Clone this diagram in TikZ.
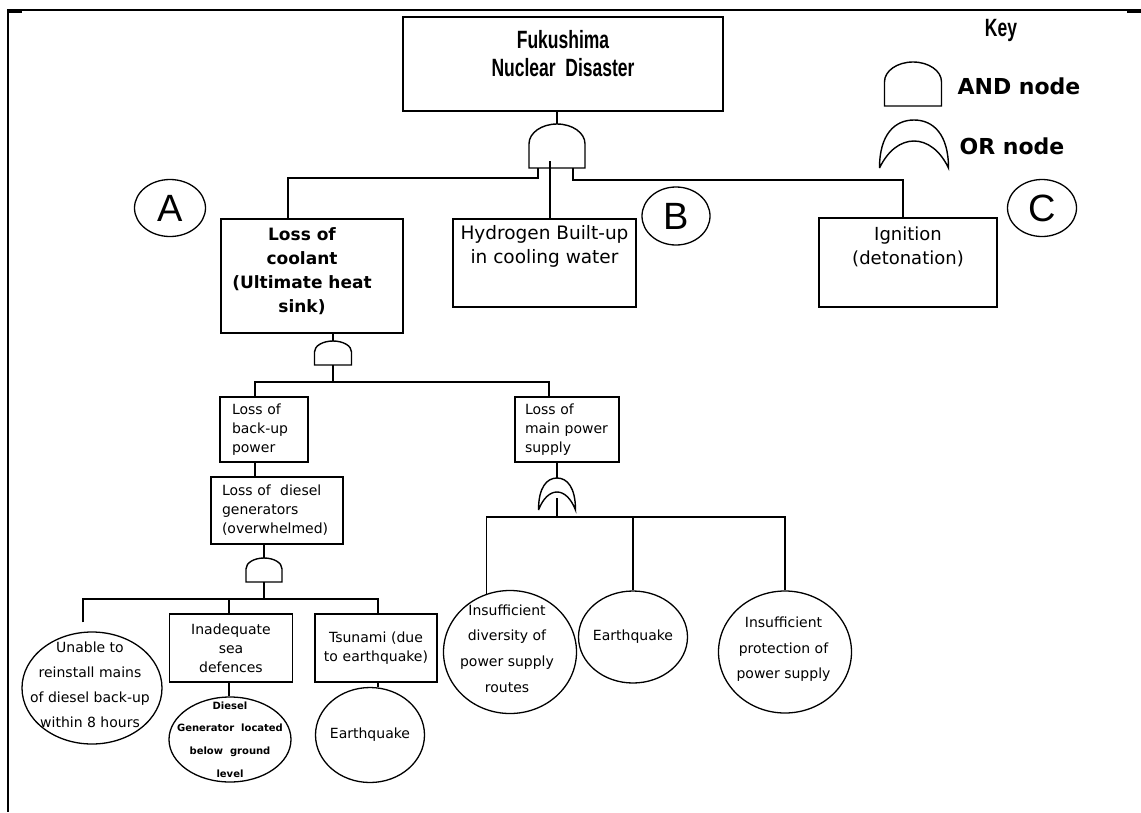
\documentclass[tikz,border=0pt]{standalone}
\usepackage{fontspec}
\setmainfont{DejaVu Sans}
\newfontfamily\titlefont{Liberation Sans}[FakeStretch=0.7]
\newfontfamily\letterfont{Liberation Sans}
\usetikzlibrary{shapes.geometric}

\tikzset{
  box/.style={draw, line width=1.7pt, inner sep=0pt},
  event/.style={draw, ellipse, line width=1.3pt, inner sep=0pt},
  link/.style={line width=1.8pt},
  gate/.style={line width=1.4pt},
  boxtxt/.style={anchor=center, align=center},
  smalltxt/.style={font={\fontsize{14}{19}\selectfont}},
  andgate/.pic={
    \draw[gate] (-0.5,0) -- (-0.5,-0.55) arc[start angle=180, end angle=360, x radius=0.5, y radius=0.45] -- (0.5,0) -- cycle;
    \coordinate (-top) at (0,-1);
    \coordinate (-out) at (0,0);
  },
  orgate/.pic={
    \draw[gate] (-0.5,0) .. controls (-0.5,-0.7) and (-0.28,-1) .. (0,-1)
      .. controls (0.28,-1) and (0.5,-0.7) .. (0.5,0)
      .. controls (0.25,-0.75) and (-0.25,-0.75) .. (-0.5,0);
    \coordinate (-top) at (0,-1);
    \coordinate (-out) at (0,0);
  }
}

\begin{document}
\begin{tikzpicture}[x=1pt,y=-1pt]
\useasboundingbox (0,0) rectangle (1141,812);
% frame
\draw[line width=1.2pt] (8,10) -- (1141,10);
\draw[line width=2.5pt] (8,9) -- (8,812);
\draw[line width=3pt] (7,11) -- (22,11);
\draw[line width=3pt] (1127,11) -- (1141,11);

% top event
\node[box, minimum width=320pt, minimum height=94pt,
  label={[boxtxt, font={\titlefont\bfseries\fontsize{25}{28}\selectfont}, yshift=10pt]center:{Fukushima\\Nuclear\ \ Disaster}}] (top) at (563,64) {};

% key
\node[font={\titlefont\bfseries\fontsize{25}{25}\selectfont}] (key) at (1001,30) {Key};
\pic[xscale=57,yscale=44] (keyand) at (913,106) {andgate};
\node[font={\bfseries\fontsize{22}{22}\selectfont}] (andlbl) at (1019,86) {AND node};
\pic[xscale=69,yscale=48] (keyor) at (914,168) {orgate};
\node[font={\bfseries\fontsize{22}{22}\selectfont}] (orlbl) at (1012,146) {OR node};

% gates
\pic[xscale=56,yscale=44] (g1) at (557,168) {andgate};
\pic[xscale=37,yscale=24] (g2) at (333,365) {andgate};
\pic[xscale=36,yscale=24] (g3) at (264,582) {andgate};
\pic[xscale=37,yscale=32] (g4) at (557,510) {orgate};

% branch markers
\node[event, minimum width=71pt, minimum height=57pt, font={\letterfont\fontsize{38}{38}\selectfont}] (A) at (170,208) {A};
\node[event, minimum width=68pt, minimum height=58pt, font={\letterfont\fontsize{38}{38}\selectfont}] (B) at (676,216) {B};
\node[event, minimum width=69pt, minimum height=57pt, font={\letterfont\fontsize{38}{38}\selectfont}] (C) at (1042,208) {C};

% second level
\node[box, minimum width=182pt, minimum height=114pt,
  label={[boxtxt, font={\bfseries\fontsize{17}{24}\selectfont}, xshift=-10pt, yshift=4.5pt]center:{Loss of\\coolant\\(Ultimate heat\\sink)}}] (coolant) at (312,276) {};
\node[box, minimum width=183pt, minimum height=88pt,
  label={[boxtxt, font={\fontsize{18.5}{23.5}\selectfont}, yshift=16.5pt]center:{Hydrogen Built-up\\in cooling water}}] (hydro) at (544.5,263) {};
\node[box, minimum width=178pt, minimum height=89pt,
  label={[boxtxt, font={\fontsize{18}{23.5}\selectfont}, yshift=15.5pt]center:{Ignition\\(detonation)}}] (ignition) at (908,262.5) {};

% third level
\node[box, smalltxt, align=left, text width=64pt, inner xsep=12pt, minimum height=65pt] (backup) at (264,429.5) {Loss of\\back-up\\power};
\node[box, smalltxt, align=left, text width=110pt, inner xsep=11pt, minimum height=67pt] (diesel) at (277,510.5) {Loss of\ \ diesel\\generators\\(overwhelmed)};
\node[box, smalltxt, align=left, text width=84pt, inner xsep=10pt, minimum height=65pt] (mainpower) at (567,429.5) {Loss of\\main power\\supply};

% basic events
\node[box, smalltxt, align=center, text width=103pt, inner xsep=10pt, minimum height=68pt] (seadef) at (231,648) {Inadequate\\sea\\defences};
\node[box, smalltxt, align=center, text width=106pt, inner xsep=8pt, minimum height=68pt] (tsunami) at (376,648) {Tsunami (due\\to earthquake)};
\node[event, minimum width=140pt, minimum height=112pt,
  label={[boxtxt, font={\fontsize{14}{25}\selectfont}, xshift=-2pt, yshift=3pt]center:{Unable to\\reinstall mains\\of diesel back-up\\within 8 hours}}] (unable) at (92,688) {};
\node[event, minimum width=122pt, minimum height=85pt,
  label={[boxtxt, font={\bfseries\fontsize{10}{22.7}\selectfont}]center:{Diesel\\Generator\ \ located\\below\ \ ground\\level}}] (dieselgen) at (230,739.5) {};
\node[event, minimum width=109pt, minimum height=95pt,
  label={[boxtxt, font={\fontsize{14}{19}\selectfont}]center:{Earthquake}}] (quake1) at (370,735) {};
\node[event, minimum width=133pt, minimum height=123pt,
  label={[boxtxt, font={\fontsize{14}{25.7}\selectfont}, xshift=-3pt, yshift=3.5pt]center:{Insufficient\\diversity of\\power supply\\routes}}] (diversity) at (510,652) {};
\node[event, minimum width=109pt, minimum height=92pt,
  label={[boxtxt, font={\fontsize{14}{19}\selectfont}]center:{Earthquake}}] (quake2) at (633,637) {};
\node[event, minimum width=133pt, minimum height=122pt,
  label={[boxtxt, font={\fontsize{14}{25.5}\selectfont}, xshift=-1.5pt, yshift=2.5pt]center:{Insufficient\\protection of\\power supply}}] (protection) at (785,652) {};

% connectors
\draw[link] (g1-top) -- (g1-top |- top.south);
\draw[link] ([xshift=-19pt]g1-out) -- ++(0,10) -| ([xshift=-24pt]coolant.north);
\draw[link] ([xshift=-7pt,yshift=7pt]g1-out) -- ([xshift=-7pt]g1-out |- hydro.north);
\draw[link] ([xshift=16pt]g1-out) -- ++(0,12) -| ([xshift=-5pt]ignition.north);

\draw[link] (g2-top) -- (g2-top |- coolant.south);
\draw[link] (g2-out) -- ++(0,17) coordinate (bus2);
\draw[link] ([xshift=-9pt]backup.north) |- (bus2) -| ([xshift=-18pt]mainpower.north);
\draw[link] ([xshift=-9pt]backup.south) -- ([xshift=-9pt]backup.south |- diesel.north);

\draw[link] (g3-top) -- (g3-top |- diesel.south);
\draw[link] (g3-out) -- ++(0,17) coordinate (bus3);
\draw[link] ([xshift=-9pt,yshift=9pt]unable.north) |- (bus3) -| ([xshift=2pt]tsunami.north);
\draw[link] ([xshift=-2pt]seadef.north) -- ([xshift=-2pt]seadef.north |- bus3);
\draw[link] ([xshift=-2pt]seadef.south) -- ([xshift=-2pt]seadef.south |- dieselgen.north);
\draw[link] ([xshift=2pt]tsunami.south) -- ([xshift=2pt]tsunami.south |- quake1.north);

\draw[link] (g4-top) -- (g4-top |- mainpower.south);
\draw[link] ([yshift=12pt]g4-out) -- ++(0,19) coordinate (bus4);
\draw[link] (diversity.112) |- (bus4) -| (protection.north);
\draw[link] (quake2.north) -- (quake2.north |- bus4);
\end{tikzpicture}
\end{document}
